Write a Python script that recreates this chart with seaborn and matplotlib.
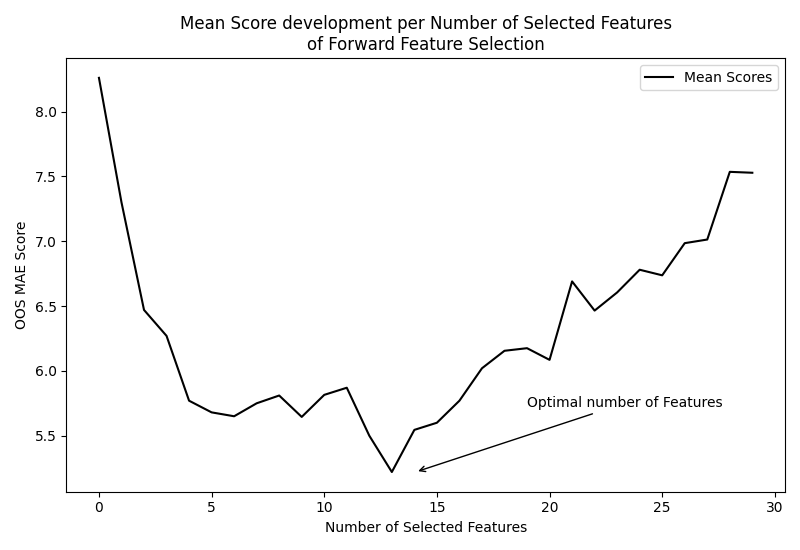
import numpy as np
import pandas as pd
import matplotlib
matplotlib.use("Agg")
import matplotlib.pyplot as plt
import seaborn as sns

# Mean OOS MAE score per number of selected features (forward selection)
n_features = list(range(30))
mean_scores = [8.26, 7.30, 6.47, 6.27, 5.77, 5.68, 5.65, 5.75, 5.81, 5.645,
               5.815, 5.87, 5.50, 5.22, 5.545, 5.60, 5.77, 6.02, 6.155, 6.175,
               6.085, 6.69, 6.465, 6.605, 6.78, 6.737, 6.985, 7.013, 7.535, 7.528]

df = pd.DataFrame({"n": n_features, "score": mean_scores})

fig, ax = plt.subplots(figsize=(8, 5.5), dpi=100)
sns.lineplot(data=df, x="n", y="score", color="black", label="Mean Scores", ax=ax)

ax.annotate("Optimal number of Features",
            xy=(14.05, 5.22), xytext=(19, 5.72),
            arrowprops=dict(arrowstyle="->", color="black"))

ax.set_title("Mean Score development per Number of Selected Features\nof Forward Feature Selection")
ax.set_xlabel("Number of Selected Features")
ax.set_ylabel("OOS MAE Score")
ax.legend(loc="upper right")

plt.tight_layout()
plt.savefig("out.png")
